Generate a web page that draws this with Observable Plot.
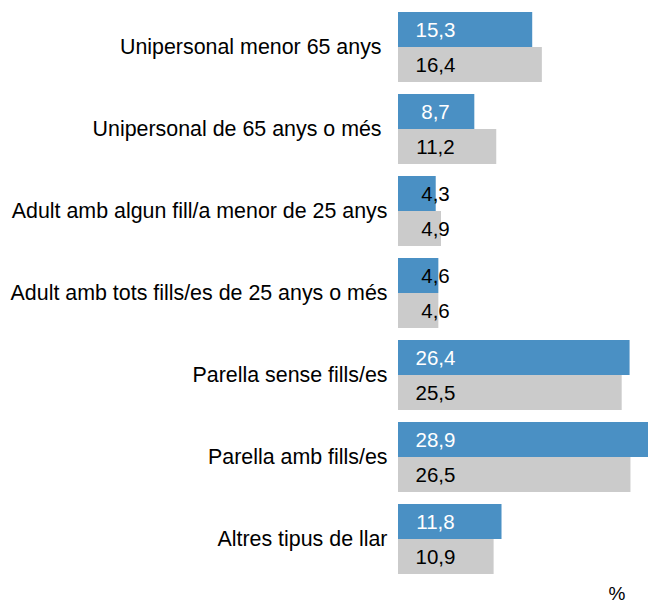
<!DOCTYPE html>
<html>
<head>
<meta charset="utf-8">
<script src="https://cdn.jsdelivr.net/npm/d3@7"></script>
<script src="https://cdn.jsdelivr.net/npm/@observablehq/plot@0.6"></script>
<style>
  body { margin: 0; background: #fff; font-family: "Liberation Sans", Arial, sans-serif; }
  #wrap { position: relative; width: 648px; height: 604px; overflow: hidden; }
  #pct { position: absolute; left: 600px; width: 34px; top: 584px; height: 20px; text-align: center; font-size: 19px; line-height: 20px; color: #000; }
  svg text { white-space: pre; }
</style>
</head>
<body>
<div id="wrap"><div id="chart"></div><div id="pct">%</div></div>
<script>
const categories = [
  "Unipersonal menor 65 anys ",
  "Unipersonal de 65 anys o més ",
  "Adult amb algun fill/a menor de 25 anys",
  "Adult amb tots fills/es de 25 anys o més",
  "Parella sense fills/es",
  "Parella amb fills/es",
  "Altres tipus de llar"
];
const seriesNames = ["A", "B"];
const seriesA = [15.3, 8.7, 4.3, 4.6, 26.4, 28.9, 11.8];
const seriesB = [16.4, 11.2, 4.9, 4.6, 25.5, 26.5, 10.9];
const colors = ["#4A90C4", "#CBCBCB"];

const data = [];
categories.forEach((c, i) => {
  data.push({cat: c, s: seriesNames[0], v: seriesA[i]});
  data.push({cat: c, s: seriesNames[1], v: seriesB[i]});
});
const fmt = v => v.toFixed(1).replace(".", ",");

const chart = Plot.plot({
  width: 648,
  height: 582,
  marginLeft: 398,
  marginRight: 0,
  marginTop: 10,
  marginBottom: 5,
  style: {fontFamily: "Liberation Sans, Arial, sans-serif", fontSize: "20.5px", background: "#fff", color: "#000"},
  x: {domain: [0, 28.5], axis: null},
  y: {domain: seriesNames, axis: null, padding: 0},
  fy: {domain: categories, axis: null, paddingInner: 0.145, paddingOuter: 0},
  color: {domain: seriesNames, range: colors},
  marks: [
    Plot.barX(data, {fy: "cat", y: "s", x: "v", fill: "s"}),
    Plot.text(data.filter(d => d.s === "A" && d.v > 6), {fy: "cat", y: "s", x: d => 0, dx: 37, text: d => fmt(d.v), fill: "#fff", textAnchor: "middle", fontSize: 20.5}),
    Plot.text(data.filter(d => !(d.s === "A" && d.v > 6)), {fy: "cat", y: "s", x: d => 0, dx: 37, text: d => fmt(d.v), fill: "#000", textAnchor: "middle", fontSize: 20.5}),
    Plot.axisFy({anchor: "left", tickSize: 0, tickPadding: 11, label: null, fontSize: 21.4})
  ]
});
document.getElementById("chart").appendChild(chart);
</script>
</body>
</html>
